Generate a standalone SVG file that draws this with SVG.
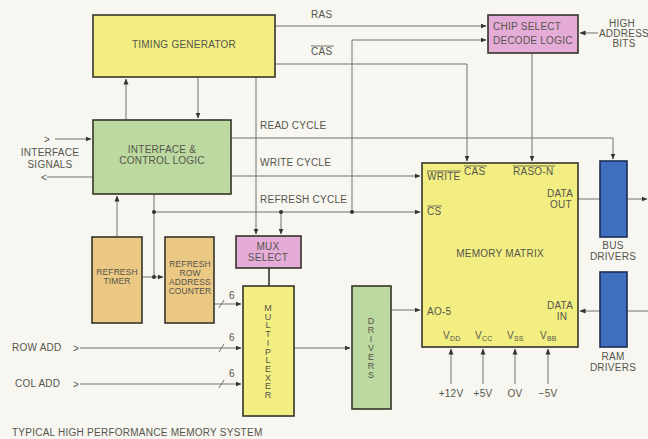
<svg xmlns="http://www.w3.org/2000/svg" width="648" height="439" viewBox="0 0 648 439">
<defs>
<marker id="a" markerWidth="6" markerHeight="6" refX="5.5" refY="3" orient="auto" markerUnits="userSpaceOnUse"><path d="M0,0.5 L6,3 L0,5.5 z" fill="#333"/></marker>
</defs>
<style>
.box{stroke:#34342a;stroke-width:1.6}
.yl{fill:#f2ee82}.gr{fill:#bcd9a0}.pk{fill:#e6acd8}.tn{fill:#ebc884}.bl{fill:#3f6fbf;stroke:#1c2c55}
.t{font-family:"Liberation Sans",Arial,Helvetica,sans-serif;font-size:10px;letter-spacing:0.25px;fill:#55554c}
.s{font-size:8.5px;letter-spacing:0.1px}
.v{font-size:9px;letter-spacing:0}
.m{text-anchor:middle}
.w{stroke:#707070;stroke-width:1;fill:none}
.ar{marker-end:url(#a)}
.dot{fill:#333}
.ol{stroke:#55554c;stroke-width:0.8}
</style>
<rect width="648" height="439" fill="#f7f6f0"/>

<g id="connectors">
<path class="w ar" d="M275,26 H486"/>
<path class="w ar" d="M275,64 H467 V161"/>
<path class="w ar" d="M352,212 V40 H486"/>
<path class="w ar" d="M598,33 H580"/>
<path class="w ar" d="M532,53 V161"/>
<path class="w ar" d="M126,120 V79"/>
<path class="w ar" d="M198,77 V118"/>
<path class="w ar" d="M55,139 H91"/>
<path class="w" d="M93,177 H47"/>
<path class="w ar" d="M256,77 V234"/>
<path class="w ar" d="M231,138 H613 V159"/>
<path class="w ar" d="M231,176 H420"/>
<path class="w" d="M154,194 V277"/>
<path class="w ar" d="M154,212 H420"/>
<path class="w ar" d="M281,212 V234"/>
<path class="w ar" d="M117,237 V196"/>
<path class="w ar" d="M142,277 H163"/>
<path class="w ar" d="M214,304 H241"/>
<path class="w ar" d="M80,348 H241"/>
<path class="w ar" d="M80,384 H241"/>
<path class="w ar" d="M294,348 H350"/>
<path d="M269,268 V286" stroke="#34342a" stroke-width="1.6"/>
<path class="w ar" d="M391,310 H420"/>
<path class="w ar" d="M451,384 V349"/>
<path class="w ar" d="M483,384 V349"/>
<path class="w ar" d="M515,384 V349"/>
<path class="w ar" d="M548,384 V349"/>
<path class="w" d="M578,199 H600"/>
<path class="w ar" d="M627,199 H647"/>
<path class="w" d="M648,311 H627"/>
<path class="w ar" d="M600,311 H580"/>
<circle class="dot" cx="154" cy="212" r="2"/>
<circle class="dot" cx="281" cy="212" r="2"/>
<circle class="dot" cx="352" cy="212" r="2"/>
<circle class="dot" cx="154" cy="277" r="2"/>
<path class="w" d="M219,308 L224,300 M219,352 L224,344 M219,388 L224,380"/>
<text class="t" x="311" y="18">RAS</text>
<text class="t" x="311" y="55">CAS</text><path class="ol" d="M311,46 H334"/>
<text class="t" x="260" y="129">READ CYCLE</text>
<text class="t" x="260" y="166">WRITE CYCLE</text>
<text class="t" x="260" y="203">REFRESH CYCLE</text>
<text class="t" x="229" y="299">6</text>
<text class="t" x="229" y="341">6</text>
<text class="t" x="229" y="377">6</text>
<text class="t" x="44" y="143">&gt;</text>
<text class="t" x="41" y="181">&lt;</text>
<text class="t m" x="50" y="156">INTERFACE</text>
<text class="t m" x="50" y="168">SIGNALS</text>
<text class="t" x="12" y="351">ROW ADD</text>
<text class="t" x="73" y="352">&gt;</text>
<text class="t" x="15" y="387">COL ADD</text>
<text class="t" x="73" y="388">&gt;</text>
<text class="t m" x="622" y="27">HIGH</text>
<text class="t m" x="624" y="37">ADDRESS</text>
<text class="t m" x="624" y="47">BITS</text>
<text class="t m" x="451" y="397">+12V</text>
<text class="t m" x="483" y="397">+5V</text>
<text class="t m" x="515" y="397">OV</text>
<text class="t m" x="548" y="397">−5V</text>
</g>

<g id="timing">
<rect class="box yl" x="93" y="15" width="182" height="62"/>
<text class="t m" x="184" y="48">TIMING GENERATOR</text>
</g>

<g id="interface">
<rect class="box gr" x="93" y="120" width="138" height="74"/>
<text class="t m" x="162" y="153">INTERFACE &amp;</text>
<text class="t m" x="162" y="164">CONTROL LOGIC</text>
</g>

<g id="chipselect">
<rect class="box pk" x="488" y="15" width="90" height="38"/>
<text class="t" x="493" y="30">CHIP SELECT</text>
<text class="t" x="493" y="44">DECODE LOGIC</text>
</g>

<g id="muxselect">
<rect class="box pk" x="236" y="236" width="65" height="32"/>
<text class="t m" x="268" y="250">MUX</text>
<text class="t m" x="268" y="261">SELECT</text>
</g>

<g id="refreshtimer">
<rect class="box tn" x="92" y="237" width="50" height="86"/>
<text class="t s m" x="117" y="275">REFRESH</text>
<text class="t s m" x="117" y="284">TIMER</text>
</g>

<g id="refreshcounter">
<rect class="box tn" x="165" y="237" width="49" height="86"/>
<text class="t s m" x="190" y="267">REFRESH</text>
<text class="t s m" x="190" y="276">ROW</text>
<text class="t s m" x="190" y="285">ADDRESS</text>
<text class="t s m" x="190" y="294">COUNTER</text>
</g>

<g id="multiplexer">
<rect class="box yl" x="243" y="286" width="51" height="130"/>
<text class="t v m"><tspan x="268" y="311">M</tspan><tspan x="268" y="319.7">U</tspan><tspan x="268" y="328.4">L</tspan><tspan x="268" y="337.1">T</tspan><tspan x="268" y="345.8">I</tspan><tspan x="268" y="354.5">P</tspan><tspan x="268" y="363.2">L</tspan><tspan x="268" y="371.9">E</tspan><tspan x="268" y="380.6">X</tspan><tspan x="268" y="389.3">E</tspan><tspan x="268" y="398">R</tspan></text>
</g>

<g id="drivers">
<rect class="box gr" x="352" y="286" width="39" height="123"/>
<text class="t v m"><tspan x="371" y="324">D</tspan><tspan x="371" y="333">R</tspan><tspan x="371" y="342">I</tspan><tspan x="371" y="351">V</tspan><tspan x="371" y="360">E</tspan><tspan x="371" y="369">R</tspan><tspan x="371" y="378">S</tspan></text>
</g>

<g id="memorymatrix">
<rect class="box yl" x="422" y="163" width="156" height="184"/>
<text class="t" x="427" y="180">WRITE</text><path class="ol" d="M427,171 H461"/>
<text class="t" x="464" y="175">CAS</text><path class="ol" d="M464,166 H487"/>
<text class="t" x="513" y="175">RASO-N</text><path class="ol" d="M513,166 H555"/>
<text class="t m" x="560" y="197">DATA</text>
<text class="t m" x="561" y="208">OUT</text>
<text class="t" x="427" y="215">CS</text><path class="ol" d="M427,206 H442"/>
<text class="t m" x="500" y="257">MEMORY MATRIX</text>
<text class="t" x="427" y="315">AO-5</text>
<text class="t m" x="560" y="309">DATA</text>
<text class="t m" x="562" y="320">IN</text>
<text class="t" x="443" y="339">V<tspan font-size="7" dy="2">DD</tspan></text>
<text class="t" x="475" y="339">V<tspan font-size="7" dy="2">CC</tspan></text>
<text class="t" x="507" y="339">V<tspan font-size="7" dy="2">SS</tspan></text>
<text class="t" x="540" y="339">V<tspan font-size="7" dy="2">BB</tspan></text>
</g>

<g id="busdrivers">
<rect class="box bl" x="600" y="161" width="27" height="76"/>
<text class="t m" x="613" y="249">BUS</text>
<text class="t m" x="613" y="260">DRIVERS</text>
</g>

<g id="ramdrivers">
<rect class="box bl" x="600" y="272" width="27" height="75"/>
<text class="t m" x="613" y="360">RAM</text>
<text class="t m" x="613" y="371">DRIVERS</text>
</g>

<text class="t" x="12" y="436">TYPICAL HIGH PERFORMANCE MEMORY SYSTEM</text>
</svg>
